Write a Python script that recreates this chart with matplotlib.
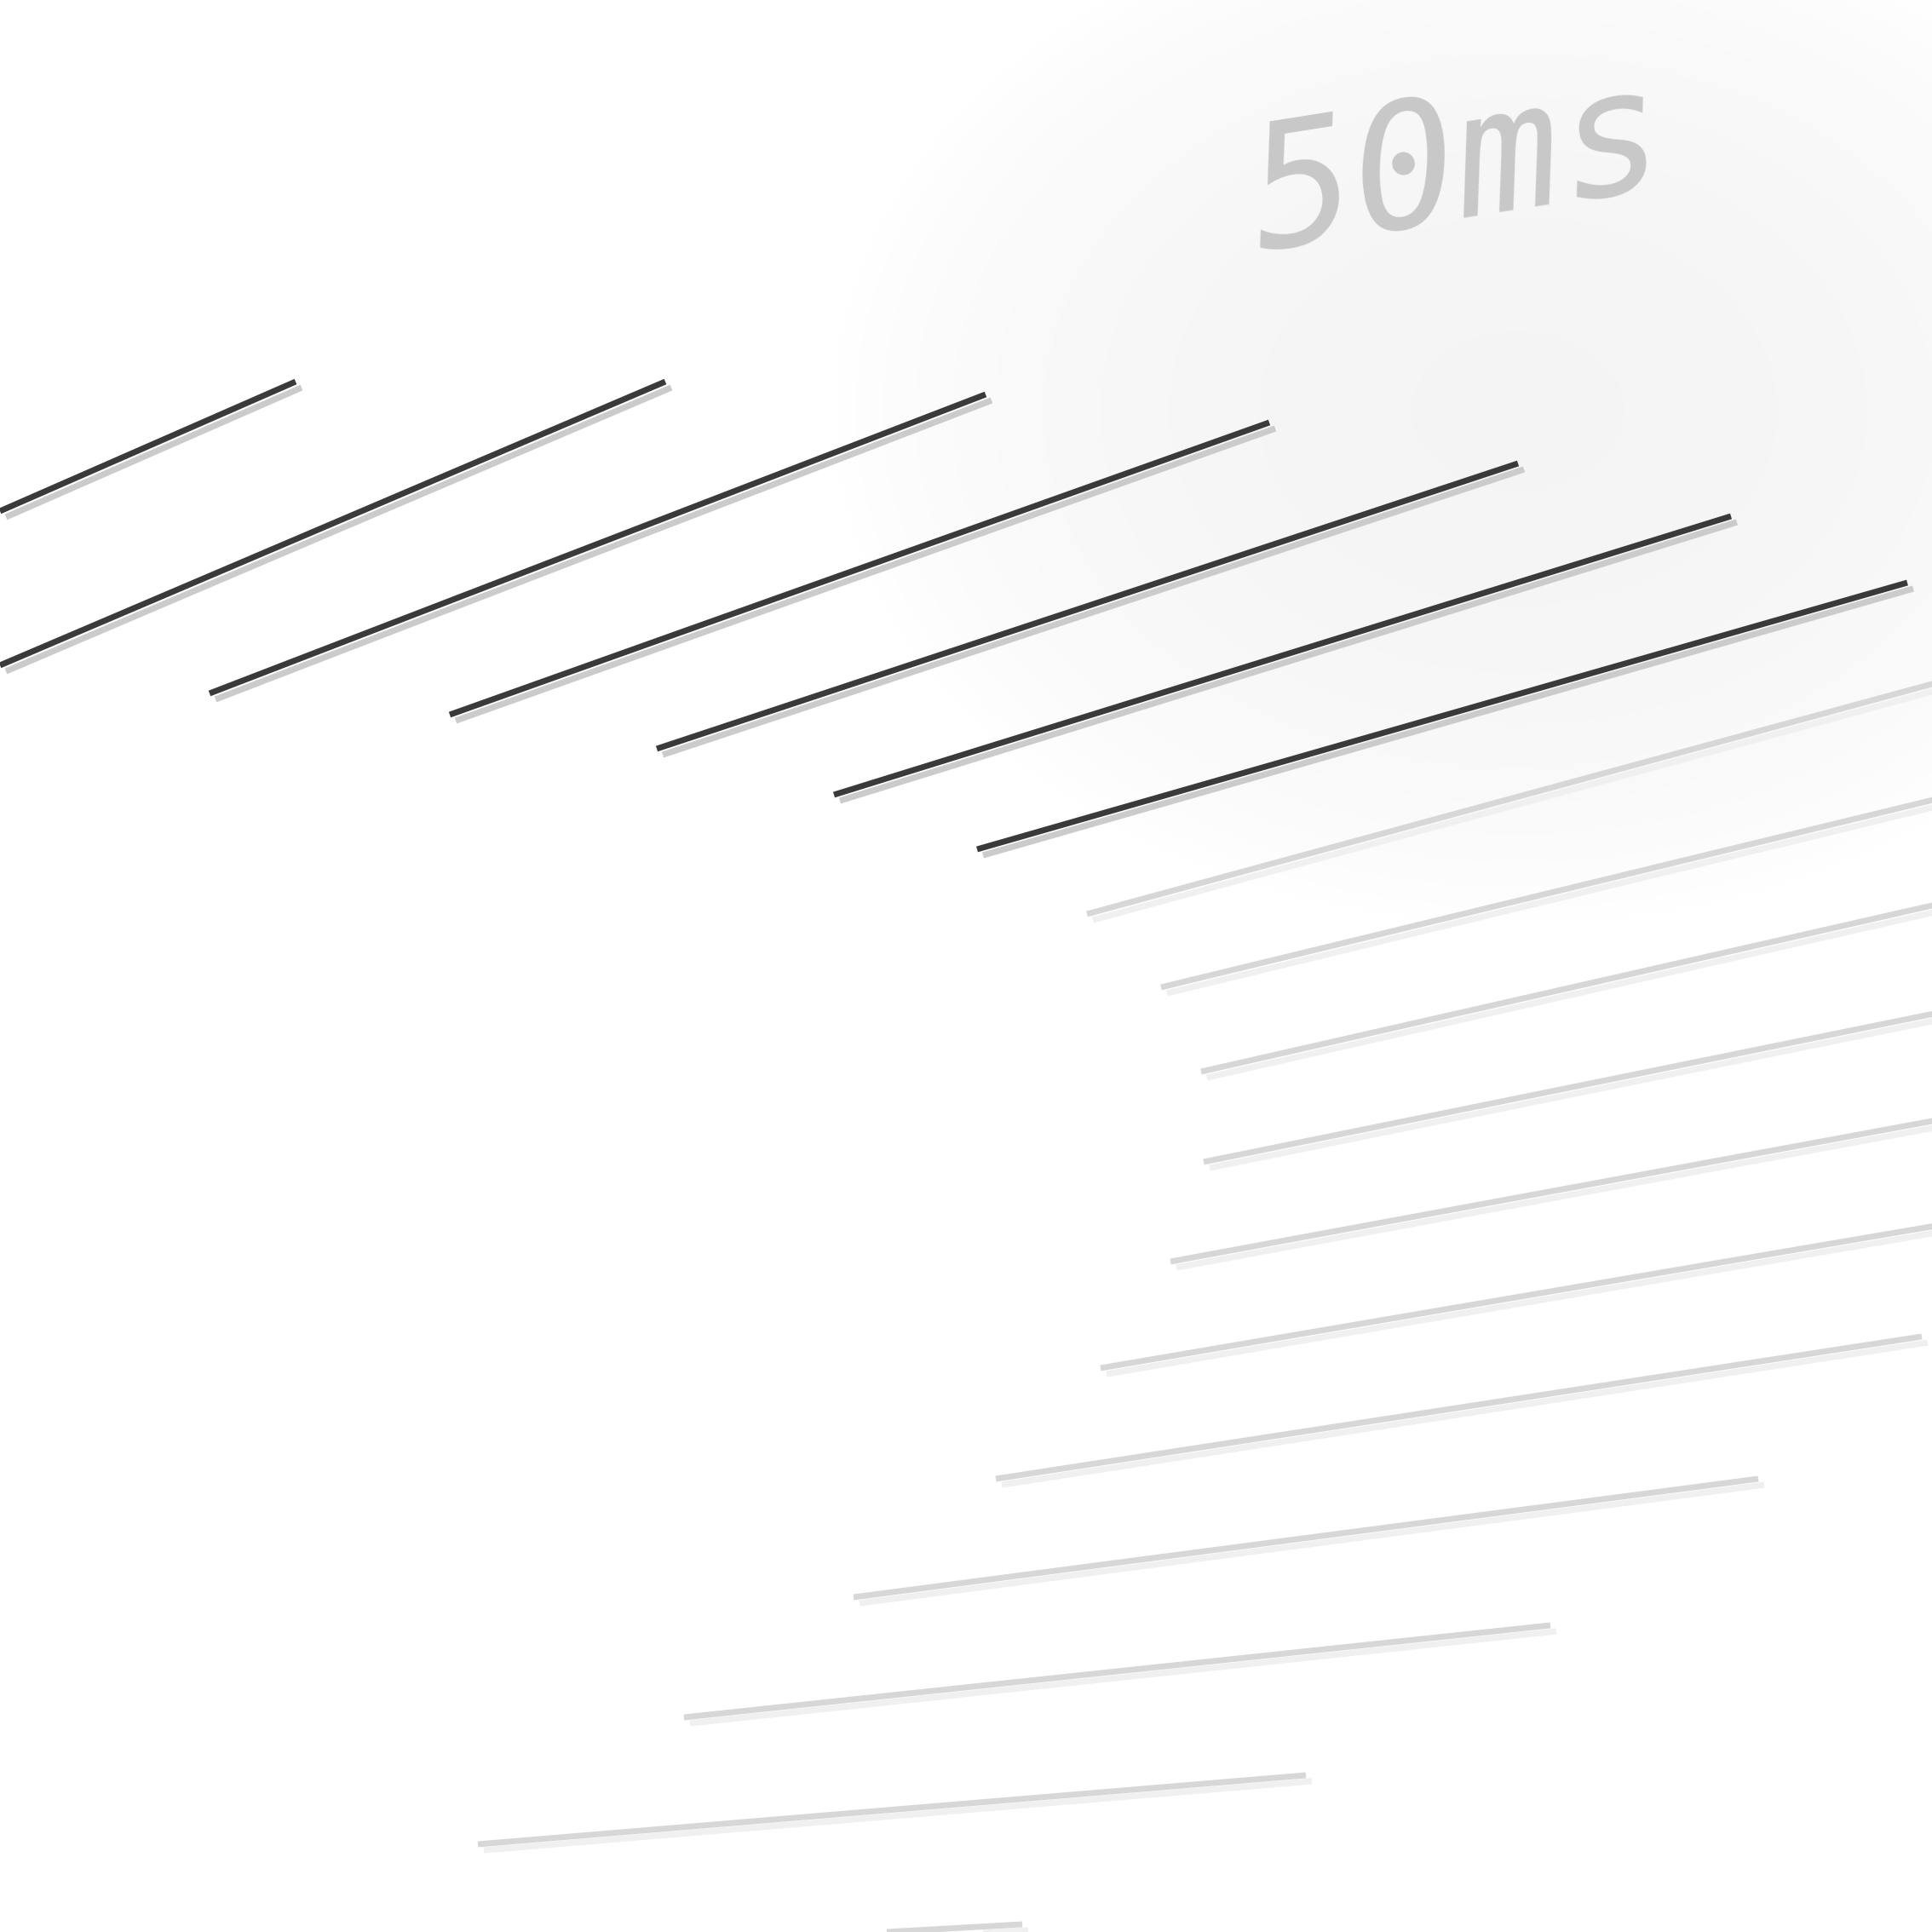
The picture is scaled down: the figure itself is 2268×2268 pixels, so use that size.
import numpy as np
import matplotlib.pyplot as plt

# segment endpoints (image pixel space, y pointing down)
dark_x0 = [0, 0, 246, 528, 771, 979, 1147]
dark_y0 = [600, 781, 814, 839, 879, 933, 997]
dark_x1 = [347, 781, 1157, 1490, 1782, 2032, 2239]
dark_y1 = [448, 448, 463, 496, 544, 606, 684]

light_x0 = [1276, 1363, 1410, 1413, 1374, 1292, 1169, 1002, 803, 561, 1041]
light_y0 = [1073, 1159, 1258, 1364, 1481, 1606, 1736, 1875, 2016, 2165, 2268]
light_x1 = [2290, 2290, 2290, 2290, 2290, 2290, 2256, 2064, 1820, 1533, 1200]
light_y1 = [797, 934, 1058, 1186, 1312, 1436, 1569, 1736, 1908, 2084, 2259]

label = "50ms"

W = 2268
fig = plt.figure(figsize=(22.68, 22.68), dpi=100)
ax = fig.add_axes([0, 0, 1, 1])
ax.set_xlim(0, W)
ax.set_ylim(W, 0)
ax.axis('off')

# faint glow behind the upper right
gx, gy = np.meshgrid(np.arange(0, W, 4), np.arange(0, W, 4))
r = np.sqrt(((gx - 1780) / 800.0) ** 2 + ((gy - 480) / 600.0) ** 2)
glow = 1.0 - 0.04 * np.clip(1.0 - r ** 2, 0, 1) ** 0.8
ax.imshow(np.dstack([glow, glow, glow]), extent=[0, W, W, 0], interpolation='bilinear', zorder=0)

dx, dy = 7, 7
for x0, y0, x1, y1 in zip(dark_x0, dark_y0, dark_x1, dark_y1):
    ax.plot([x0 + dx, x1 + dx], [y0 + dy, y1 + dy], color='#cbcbcb', lw=5.2,
            solid_capstyle='butt', zorder=2)
    ax.plot([x0, x1], [y0, y1], color='#3a3a3a', lw=5.0, solid_capstyle='butt', zorder=3)

for x0, y0, x1, y1 in zip(light_x0, light_y0, light_x1, light_y1):
    ax.plot([x0 + dx, x1 + dx], [y0 + dy, y1 + dy], color='#f0f0f0', lw=5.2,
            solid_capstyle='butt', zorder=2)
    ax.plot([x0, x1], [y0, y1], color='#d7d7d7', lw=5.0, solid_capstyle='butt', zorder=3)

ax.text(1712, 200, label, family='DejaVu Sans Mono', fontstyle='oblique', fontsize=146,
        color='#c8c8c8', rotation=9, ha='center', va='center', zorder=4)

fig.savefig('out.png', dpi=100, facecolor='white')
